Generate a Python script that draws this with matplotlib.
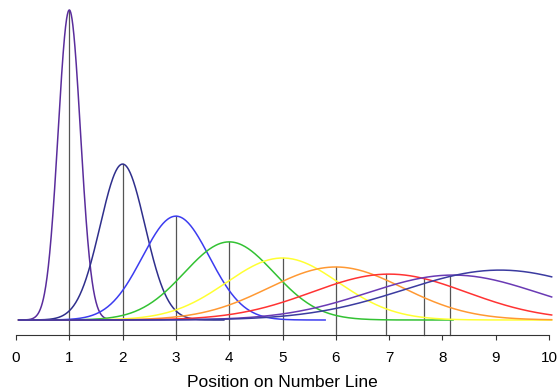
import numpy as np
import matplotlib.pyplot as plt

plt.rcParams['font.family'] = ['Liberation Sans', 'DejaVu Sans']

# one curve per represented number (1..9)
centers = [1, 2, 3, 4, 5, 6, 7, 8.2, 9.08]
peaks = [1.0, 0.503, 0.335, 0.252, 0.2, 0.171, 0.148, 0.145, 0.161]
sigmas = [0.21, 0.42, 0.63, 0.84, 1.05, 1.26, 1.45, 1.6, 1.8]
x_start = [0.05] * 9
x_end = [2.0, 3.9, 5.8, 8.2, 10.05, 10.05, 10.05, 10.05, 10.05]
colors = ['#5a2d9c', '#2f2f8c', '#3c3cf0', '#33c233', '#ffff33',
          '#ff9933', '#ff3333', '#6a3ab4', '#3b3ba0']
# estimated positions (vertical markers)
marks = [1, 2, 3, 4, 5, 6, 6.95, 7.65, 8.15]
xticks = list(range(0, 11))

def curve(x, c, h, s):
    return h * np.exp(-(x - c)**2 / (2 * s**2))

fig = plt.figure(figsize=(5.6, 3.92), dpi=100)
ax = fig.add_axes([16/560, 57/392, 533/560, 325/392])
ybot = -15/310

for c, h, s, x0, x1, col in zip(centers, peaks, sigmas, x_start, x_end, colors):
    x = np.linspace(x0, x1, 400)
    ax.plot(x, curve(x, c, h, s), color=col, lw=1.1, clip_on=False)

for m, c, h, s in zip(marks, centers, peaks, sigmas):
    ax.plot([m, m], [ybot, curve(m, c, h, s)], color='#555555', lw=0.9,
            zorder=1, clip_on=False)

ax.set_xlim(0, 10)
ax.set_ylim(ybot, 1.0)
for side in ['top', 'right', 'left']:
    ax.spines[side].set_visible(False)
ax.spines['bottom'].set_color('#333333')
ax.set_yticks([])
ax.set_xticks(xticks)
ax.tick_params(axis='x', direction='out', length=3.5, width=0.8,
               labelsize=11, pad=8, color='#333333')
ax.set_xlabel('Position on Number Line', fontsize=12.5, labelpad=7)

fig.savefig('out.png', dpi=100)
